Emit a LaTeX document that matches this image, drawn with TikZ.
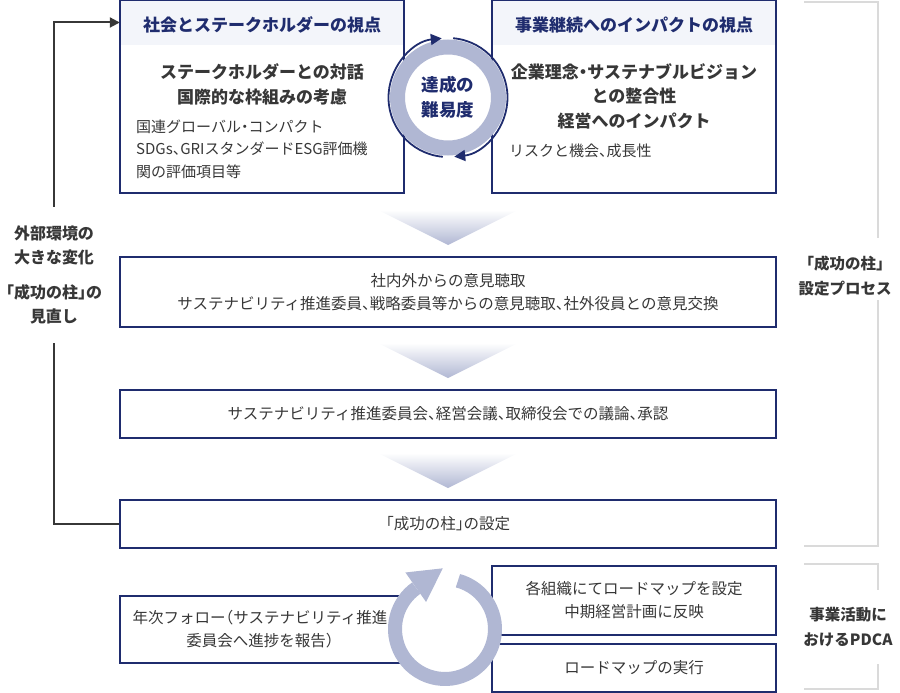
\documentclass[tikz,border=0pt]{standalone}
\usepackage{fontspec}
\setmainfont{Noto Sans CJK JP}[RawFeature=+halt]
\newfontfamily\fullwidth{Noto Sans CJK JP}
\usepackage{tikz}
\usetikzlibrary{arrows.meta,positioning,calc}

\definecolor{navy}{RGB}{31,44,110}
\definecolor{headfill}{RGB}{243,245,250}
\definecolor{lav}{RGB}{176,183,211}
\definecolor{ink}{RGB}{55,55,55}
\definecolor{brkgray}{RGB}{218,218,218}

\tikzset{
  box/.style={draw=navy,line width=2.5pt,inner sep=0pt},
  headnode/.style={fill=headfill,minimum width=284pt,inner sep=0pt,text height=31.5pt,text depth=13.5pt,
    font=\fontsize{17}{25}\selectfont\bfseries,text=navy},
  bigtext/.style={font=\fontsize{17}{24.5}\selectfont\bfseries,text=ink,align=center,inner sep=0pt},
  smalltext/.style={font=\fontsize{15}{22.5}\selectfont,text=ink,align=left,inner sep=0pt},
  bodytext/.style={font=\fontsize{15.5}{23}\selectfont,text=ink,align=center},
  ringtext/.style={font=\fontsize{17.5}{25}\selectfont\bfseries,text=navy,align=center},
  sidetext/.style={font=\fontsize{16}{24.5}\selectfont\bfseries,text=ink,align=center,inner xsep=0pt},
  sidelabel/.style={font=\fullwidth\fontsize{15.5}{25}\selectfont\bfseries,text=ink,align=center},
  chevron/.style={top color=white,bottom color=lav},
  fb/.style={draw=ink,line width=2pt},
  brk/.style={draw=brkgray,line width=2pt},
}

\begin{document}
\begin{tikzpicture}[x=1pt,y=-1pt]
  \useasboundingbox (0,0) rectangle (900,693);

  % two viewpoints
  \node[headnode] (stakehead) at (262,22.5) {社会とステークホルダーの視点};
  \node[box,minimum width=284pt,minimum height=193pt] (stake) at (262,96.5) {};
  \node[bigtext] (stakemain) at (262,84.5) {ステークホルダーとの対話\\国際的な枠組みの考慮};
  \node[smalltext,anchor=west] (stakesub) at (136,149) {国連グローバル・コンパクト\\SDGs、GRIスタンダードESG評価機\\関の評価項目等};

  \node[headnode] (impacthead) at (634,22.5) {事業継続へのインパクトの視点};
  \node[box,minimum width=284pt,minimum height=193pt] (impact) at (634,96.5) {};
  \node[bigtext] (impactmain) at (634,96) {企業理念・サステナブルビジョン\\との整合性\\経営へのインパクト};
  \node[smalltext,anchor=west] (impactsub) at (509,151) {リスクと機会、成長性};

  % ring between them
  \node[ringtext] (ring) at (448,97.5) {達成の\\難易度};
  \draw[lav,line width=15pt] (ring.center) circle[radius=50.5];
  \draw[navy,line width=1.8pt,-{Triangle[length=11pt,width=11pt]}]
    (ring.center) ++(-85:59.5) arc[start angle=-85,end angle=84,radius=59.5];
  \draw[navy,line width=1.8pt,-{Triangle[length=11pt,width=11pt]}]
    (ring.center) ++(95:59.5) arc[start angle=95,end angle=264,radius=59.5];

  % process steps
  \shade[chevron] (378,210) -- (518,210) -- (448,245) -- cycle;
  \node[box,bodytext,minimum width=656pt,minimum height=70pt] (hear) at (448,292)
    {社内外からの意見聴取\\サステナビリティ推進委員、戦略委員等からの意見聴取、社外役員との意見交換};
  \shade[chevron] (378,343) -- (518,343) -- (448,378) -- cycle;
  \node[box,bodytext,minimum width=656pt,minimum height=48pt] (decide) at (448,414)
    {サステナビリティ推進委員会、経営会議、取締役会での議論、承認};
  \shade[chevron] (378,453) -- (518,453) -- (448,488) -- cycle;
  \node[box,bodytext,minimum width=656pt,minimum height=48pt] (pillar) at (448,524)
    {「成功の柱」の設定};

  % feedback on the left
  \node[sidetext,minimum height=136pt] (change) at (54,275)
    {外部環境の\\大きな変化\\[10pt]「成功の柱」の\\見直し};
  \draw[fb] (pillar.west) -| (change.south);
  \draw[fb,-{Triangle[length=10pt,width=10pt]}] (change.north) |- (stakehead.west);

  % PDCA
  \node[box,bodytext,minimum width=280pt,minimum height=67pt] (follow) at (260,629.5)
    {年次フォロー（サステナビリティ推進\\委員会へ進捗を報告）};
  \node[box,bodytext,minimum width=284pt,minimum height=69pt] (roadmap) at (634,600.5)
    {各組織にてロードマップを設定\\中期経営計画に反映};
  \node[box,bodytext,minimum width=284pt,minimum height=48pt] (exec) at (634,668)
    {ロードマップの実行};
  \coordinate (pdca) at (445,629);
  \draw[lav,line width=14pt] (pdca) ++(-75:50) arc[start angle=-75,end angle=235,radius=50];
  \fill[lav] ($(pdca)+(235:69)$) -- ($(pdca)+(-2.2,-60.7)$) -- ($(pdca)+(235:33)$) -- cycle;

  % brackets on the right
  \node[sidelabel] (setlabel) at (845,276) {「成功の柱」\\設定プロセス};
  \draw[brk] (804,2) -| (878,238);
  \draw[brk] (878,300) |- (804,546);
  \node[sidelabel] (pdcalabel) at (848,627.5) {事業活動に\\おけるPDCA};
  \draw[brk] (804,564) -| (878,590);
  \draw[brk] (878,664) |- (804,689);
\end{tikzpicture}
\end{document}
